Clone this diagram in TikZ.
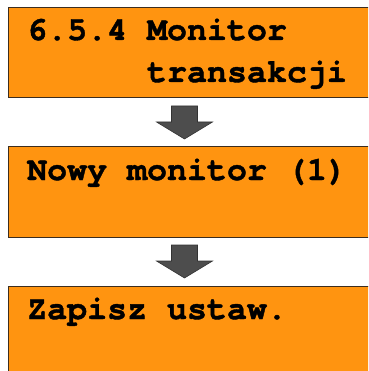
\documentclass[tikz,border=0pt]{standalone}
\usepackage{fontspec}
\newfontfamily\lcdfont{TeX Gyre Cursor}[BoldFeatures={FakeBold=1.2}]
\definecolor{boxfill}{RGB}{255,148,16}
\definecolor{boxline}{RGB}{60,45,30}
\definecolor{arrfill}{RGB}{77,77,77}
\tikzset{
  screen/.style={draw=boxline, line width=1pt, fill=boxfill},
  lcd/.style={anchor=base west, inner sep=0pt, font=\lcdfont\bfseries\fontsize{33.3}{42}\selectfont},
  blockarrow/.style={draw=black!80, line width=0.6pt, fill=arrfill}
}
\begin{document}
\begin{tikzpicture}[x=1pt,y=-1pt]
\useasboundingbox (0,0) rectangle (368,371);
\clip (0,0) rectangle (368,371);
\fill[white] (0,0) rectangle (368,371);
% boxes
\draw[screen] (8,8) rectangle (380,98);
\coordinate (b1s) at (184.5,98);
\draw[screen] (8,147) rectangle (380,237);
\coordinate (b2s) at (184.5,237);
\draw[screen] (8,286) rectangle (380,400);
% texts
\node[lcd] (t1) at (27,40) {6.5.4 Monitor};
\node[lcd] (t1b) at (27,82) {\ \ \ \ \ \ transakcji};
\node[lcd] (t2) at (27,180) {Nowy monitor (1)};
\node[lcd] (t3) at (27,319) {Zapisz ustaw.};
% arrows
\draw[blockarrow] ([xshift=-13pt,yshift=-8pt]b1s) -- ++(0,16) -- ++(-15,0) -- (184.5,139) -- (212.5,122) -- ++(-15,0) -- ++(0,-16) -- cycle;
\draw[blockarrow] ([xshift=-13pt,yshift=-8pt]b2s) -- ++(0,16) -- ++(-15,0) -- (184.5,278) -- (212.5,261) -- ++(-15,0) -- ++(0,-16) -- cycle;
\end{tikzpicture}
\end{document}
